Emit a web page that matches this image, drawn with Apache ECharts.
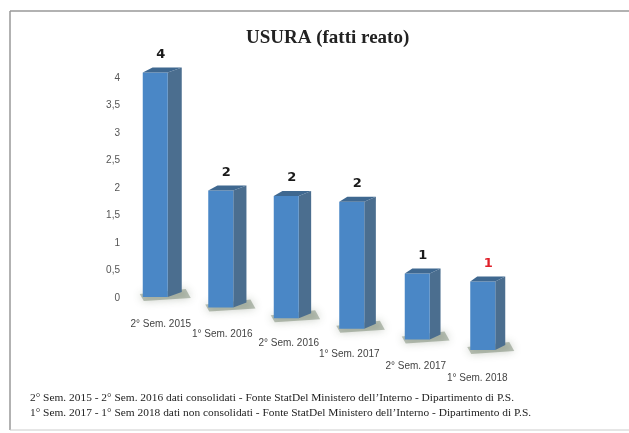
<!DOCTYPE html>
<html>
<head>
<meta charset="utf-8">
<script src="https://cdn.jsdelivr.net/npm/echarts@6/dist/echarts.min.js"></script>
<style>
html,body{margin:0;padding:0;background:#fff;}
#chart{width:629px;height:433px;}
</style>
</head>
<body>
<div id="chart"></div>
<script>
// ---- data ----
const categories = ['2° Sem. 2015', '1° Sem. 2016', '2° Sem. 2016', '1° Sem. 2017', '2° Sem. 2017', '1° Sem. 2018'];
const values = [4, 2, 2, 2, 1, 1];
const valueLabelColors = ['#1a1a1a', '#1a1a1a', '#1a1a1a', '#1a1a1a', '#1a1a1a', '#e0202a'];
const titleText = 'USURA (fatti reato)';
const footnotes = [
  '2° Sem. 2015 - 2° Sem. 2016 dati consolidati - Fonte StatDel Ministero dell\u2019Interno - Dipartimento di P.S.',
  '1° Sem. 2017 - 1° Sem 2018 dati non consolidati - Fonte StatDel Ministero dell\u2019Interno - Dipartimento di P.S.'
];

// ---- pseudo-3D perspective style (layout only) ----
const BASE_SHIFT0 = -1, BASE_STEP = 10.6;   // baseline drops going right
const SCALE0 = 1.02, SCALE_STEP = 0.045;    // perspective magnification
const labelShiftX = [2, 6, 5, 10, 9, 13];   // x label stagger (px)
const labelShiftY = [0, 10, 19, 30, 42, 54];

const chart = echarts.init(document.getElementById('chart'), null, {renderer: 'canvas'});

const rich = {};
categories.forEach((c, i) => {
  rich['r' + i] = {
    padding: [labelShiftY[i], labelShiftX[i] * 2, 0, 0],
    fontFamily: 'Liberation Sans, Arial, sans-serif',
    fontSize: 10,
    color: '#444'
  };
});

function renderItem(params, api) {
  const i = api.value(0), v = api.value(1);
  const p0 = api.coord([i, 0]);
  const p1 = api.coord([i, v]);
  const base = p0[1] + BASE_SHIFT0 + BASE_STEP * i;
  const h = (p0[1] - p1[1]) * (SCALE0 + SCALE_STEP * i);
  const top = base - h;
  const cx = p0[0];
  const L = cx - 20, R = cx + 5;
  const sw = 14 - 0.8 * i;
  const rise = 5;
  return {
    type: 'group',
    children: [
      { type: 'polygon', z2: 1,
        shape: { points: [[L - 3, base - 3], [R + sw + 4, base - rise - 3], [R + sw + 9, base + 1], [L + 1, base + 4]] },
        style: { fill: 'rgba(70,90,60,0.35)', shadowBlur: 9, shadowColor: 'rgba(60,80,50,0.8)' } },
      { type: 'polygon', z2: 2,
        shape: { points: [[R, top], [R + sw, top - rise], [R + sw, base - rise], [R, base]] },
        style: { fill: '#4b6e8f' } },
      { type: 'polygon', z2: 3,
        shape: { points: [[L, top], [R, top], [R, base], [L, base]] },
        style: { fill: '#4a87c6' } },
      { type: 'polygon', z2: 4,
        shape: { points: [[L, top], [L + sw * 0.7, top - rise], [R + sw, top - rise], [R, top]] },
        style: { fill: '#3f6890' } },
      { type: 'text', z2: 5,
        style: { text: String(v), x: cx - 2, y: top - 18, align: 'center', verticalAlign: 'middle',
          fontFamily: 'DejaVu Sans, sans-serif', fontWeight: 'bold', fontSize: 13,
          fill: valueLabelColors[i] } }
    ]
  };
}

chart.setOption({
  animation: false,
  backgroundColor: '#fff',
  grid: { left: 130, right: 106, top: 78, bottom: 135, containLabel: false },
  xAxis: {
    type: 'category',
    data: categories,
    axisLine: { show: false },
    axisTick: { show: false },
    axisLabel: {
      margin: 21,
      interval: 0,
      formatter: (val, idx) => '{r' + idx + '|' + val + '}',
      rich: rich
    }
  },
  yAxis: {
    type: 'value',
    min: 0, max: 4, interval: 0.5,
    axisLine: { show: false },
    axisTick: { show: false },
    splitLine: { show: false },
    axisLabel: {
      margin: 10,
      fontFamily: 'Liberation Sans, Arial, sans-serif',
      fontSize: 10,
      color: '#555',
      formatter: v => String(v).replace('.', ',')
    }
  },
  series: [{
    type: 'custom',
    renderItem: renderItem,
    encode: { x: 0, y: 1 },
    data: values.map((v, i) => [i, v]),
    clip: false
  }],
  graphic: [
    { type: 'line', shape: { x1: 10, y1: 11, x2: 629, y2: 11 }, style: { stroke: '#999', lineWidth: 1.5 } },
    { type: 'line', shape: { x1: 10, y1: 11, x2: 10, y2: 430 }, style: { stroke: '#999', lineWidth: 1.5 } },
    { type: 'line', shape: { x1: 10, y1: 430, x2: 629, y2: 430 }, style: { stroke: '#ccc', lineWidth: 1 } },
    { type: 'text', left: 246, top: 29,
      style: { text: titleText, fontFamily: 'Liberation Serif, Times New Roman, serif', fontWeight: 'bold', fontSize: 19, fill: '#222' } },
    { type: 'text', left: 30, top: 393,
      style: { text: footnotes[0], fontFamily: 'Liberation Serif, Times New Roman, serif', fontSize: 11.4, fill: '#222' } },
    { type: 'text', left: 30, top: 408,
      style: { text: footnotes[1], fontFamily: 'Liberation Serif, Times New Roman, serif', fontSize: 11.4, fill: '#222' } }
  ]
});
</script>
</body>
</html>
